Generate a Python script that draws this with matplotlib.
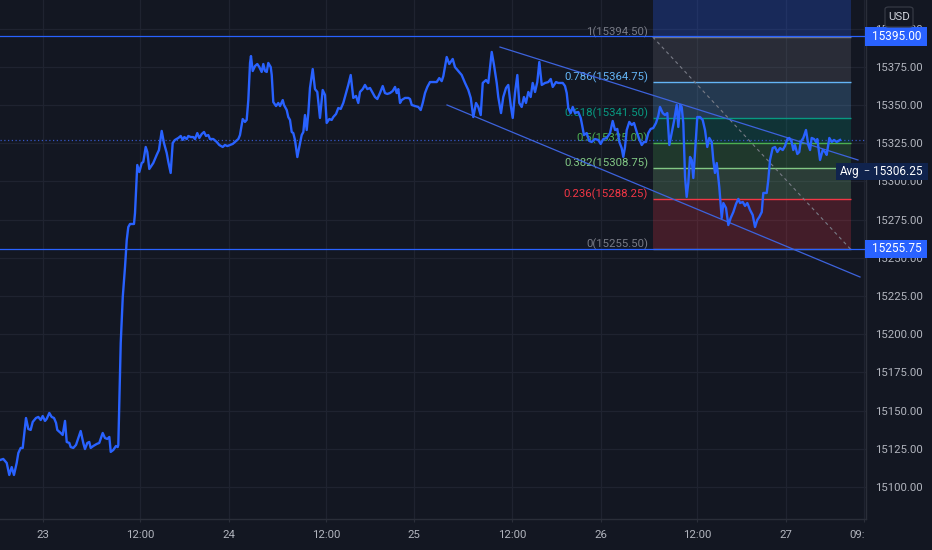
import matplotlib
matplotlib.use("Agg")
import matplotlib.pyplot as plt
from matplotlib import font_manager
from matplotlib.patches import Rectangle, FancyBboxPatch

# ---------------- data ----------------
times = [
-5.51,-5.09,-4.65,-4.32,-4.01,-3.72,-3.37,-3.16,-2.86,-2.60,
-2.18,-1.88,-1.58,-1.32,-0.90,-0.60,-0.29,-0.04,0.26,0.47,
0.81,1.11,1.41,1.67,1.83,2.27,2.52,2.82,3.04,3.37,
3.55,3.88,4.23,4.52,4.83,5.16,5.38,5.68,5.93,6.11,
6.45,6.88,7.21,7.65,7.94,8.24,8.50,8.68,9.01,9.35,
9.57,9.65,9.96,10.22,10.51,10.73,10.93,11.15,11.66,11.79,
12.08,12.34,12.65,12.85,13.16,13.37,13.62,14.13,14.57,14.86,
15.21,15.50,15.85,16.06,16.36,16.62,16.91,17.34,17.65,17.90,
18.11,18.42,18.62,18.93,19.26,19.48,19.77,20.03,20.34,20.63,
20.89,21.18,21.40,21.82,22.26,22.59,23.03,23.32,23.62,23.96,
24.31,24.60,25.03,25.24,25.59,25.88,26.10,26.31,26.53,26.65,
26.87,27.17,27.46,27.72,28.02,28.23,28.45,28.67,28.87,29.18,
29.31,29.51,29.86,30.15,30.37,30.72,30.88,31.23,31.43,31.65,
31.87,32.07,32.29,32.59,32.84,33.15,33.36,33.57,33.79,34.00,
34.21,34.56,34.85,35.15,35.49,35.84,36.14,36.35,36.69,36.99,
37.20,37.55,37.84,38.15,38.48,38.83,39.12,39.43,39.76,40.11,
40.40,40.62,40.97,41.26,41.56,41.90,42.25,42.54,42.84,43.18,
43.53,43.82,44.12,44.46,44.81,45.11,45.32,45.53,45.75,45.96,
46.39,46.81,47.03,47.25,47.67,48.09,48.40,48.66,48.95,49.25,
49.59,50.02,50.45,50.78,51.09,51.30,51.73,52.06,52.50,52.79,
53.22,53.65,54.08,54.50,54.81,55.14,55.49,55.78,56.09,56.35,
56.77,57.06,57.50,57.79,58.14,58.34,58.69,58.98,59.33,59.62,
59.93,60.19,60.48,60.78,61.03,61.34,61.63,61.89,62.19,62.49,
62.75,63.05,63.34,63.60,63.91,64.33,64.75,65.06,65.32,65.74,
66.03,66.25,66.60,66.89,67.11,67.31,67.62,67.88,68.17,68.59,
68.90,69.03,69.32,69.67,70.00,70.31,70.73,71.16,71.46,71.80,
72.23,72.66,73.00,73.30,73.59,73.85,74.15,74.36,74.58,74.80,
75.13,75.44,75.73,76.08,76.41,76.72,77.01,77.27,77.56,77.87,
78.20,78.55,78.84,79.06,79.41,79.70,80.00,80.26,80.56,80.86,
81.20,81.41,81.63,81.84,82.05,82.27,82.48,82.69,82.91,83.13,
83.33,83.55,83.84,84.19,84.53,84.83,85.12,85.38,85.69,85.89,
86.11,86.33,86.66,86.97,87.18,87.52,87.82,88.12,88.46,88.80,
89.10,89.32,89.67,89.96,90.25,90.60,90.94,91.24,91.53,91.79,
92.10,92.30,92.74,92.94,93.16,93.50,93.80,94.10,94.44,94.79,
95.08,95.38,95.63,95.94,96.14,96.36,96.66,96.91,97.09,97.43,
97.77,98.07,98.29,98.50,98.80,99.05,99.22,99.57,99.91,100.21,
100.42,100.76,101.07,101.36,101.71,102.13]

prices = [
15117.6,15118.3,15115.7,15107.8,15113.0,15107.8,15115.7,15122.2,15125.5,15125.5,
15145.1,15137.9,15137.3,15142.5,15145.1,15145.8,15143.8,15146.4,15143.2,15144.5,
15148.4,15145.8,15145.1,15141.9,15137.3,15135.3,15134.0,15143.2,15129.4,15128.8,
15126.1,15125.5,15127.5,15132.0,15136.6,15128.8,15124.8,15128.8,15129.4,15125.5,
15126.8,15128.1,15128.8,15135.3,15132.0,15131.4,15132.7,15122.9,15124.2,15126.8,
15126.1,15127.4,15194.2,15224.3,15244.0,15261.6,15270.1,15272.1,15272.1,15279.3,
15310.7,15306.1,15312.0,15312.7,15322.5,15319.2,15308.1,15312.0,15317.3,15320.5,
15333.0,15325.1,15318.6,15312.7,15305.5,15325.1,15327.1,15328.4,15329.7,15327.1,
15329.0,15327.7,15329.7,15329.0,15329.0,15327.7,15331.6,15328.4,15331.0,15332.3,
15329.7,15330.3,15327.7,15327.7,15325.8,15323.8,15322.5,15323.8,15323.1,15323.8,
15324.5,15325.8,15327.7,15330.3,15340.8,15338.9,15340.2,15353.2,15377.5,15382.0,
15372.2,15375.5,15376.8,15374.8,15371.6,15376.8,15372.2,15371.6,15377.5,15374.8,
15369.6,15351.9,15349.3,15351.3,15349.3,15353.2,15350.0,15346.7,15342.1,15340.2,
15332.3,15331.6,15327.1,15315.9,15322.5,15330.3,15332.3,15343.4,15333.6,15344.7,
15361.1,15373.5,15360.4,15358.5,15341.5,15359.8,15356.5,15338.2,15340.8,15340.2,
15342.1,15344.1,15348.0,15347.4,15351.3,15357.8,15363.1,15369.6,15354.6,15355.9,
15351.3,15358.5,15360.4,15363.1,15360.4,15361.1,15357.8,15355.2,15353.9,15357.8,
15362.4,15357.8,15357.2,15357.8,15359.1,15361.8,15357.8,15360.4,15351.3,15353.2,
15354.6,15354.6,15353.9,15350.0,15349.3,15348.7,15346.7,15351.3,15357.8,15361.8,
15365.0,15365.0,15365.0,15367.6,15365.6,15368.9,15381.4,15376.8,15380.1,15374.8,
15372.2,15369.6,15364.4,15359.8,15354.6,15342.1,15351.3,15348.7,15343.4,15364.4,
15366.3,15364.4,15384.7,15376.2,15364.4,15355.2,15344.7,15355.2,15361.1,15363.1,
15350.0,15341.5,15357.8,15369.6,15351.3,15348.7,15355.2,15351.3,15358.5,15355.2,
15364.4,15358.5,15365.0,15378.1,15363.1,15364.4,15365.0,15367.0,15361.8,15365.0,
15364.4,15364.4,15364.4,15362.4,15357.8,15348.0,15344.7,15348.7,15344.7,15345.4,
15341.5,15338.2,15330.3,15331.6,15326.4,15325.8,15327.7,15327.1,15324.5,15327.7,
15328.4,15331.6,15339.5,15333.6,15334.3,15325.8,15321.8,15316.0,15322.5,15333.6,
15338.9,15336.9,15338.2,15332.3,15327.7,15323.8,15325.8,15325.8,15331.6,15334.3,
15334.9,15338.2,15342.8,15348.7,15344.7,15343.4,15344.7,15323.8,15331.6,15339.5,
15350.0,15335.6,15350.0,15348.7,15338.2,15302.9,15289.8,15299.0,15316.0,15314.0,
15302.2,15318.6,15342.1,15342.1,15340.2,15333.6,15322.5,15328.4,15325.8,15314.0,
15305.5,15312.0,15296.3,15276.0,15285.8,15282.6,15271.4,15276.0,15279.9,15285.2,
15288.5,15285.8,15286.5,15283.9,15285.8,15281.3,15278.0,15270.1,15274.7,15276.7,
15279.9,15292.4,15292.4,15300.9,15314.0,15321.8,15322.5,15319.2,15321.8,15320.5,
15323.1,15327.7,15328.4,15325.8,15320.5,15323.8,15317.9,15319.2,15325.8,15328.4,
15333.6,15323.8,15320.5,15328.4,15327.7,15325.8,15327.7,15314.0,15320.5,15319.2,
15317.3,15328.4,15325.8,15327.1,15325.8,15327.1]

x_tick_pos = [0.0, 12.43, 23.83, 36.26, 47.58, 60.10, 71.44, 83.80, 95.21, 105.2]
x_tick_labels = ["23", "12:00", "24", "12:00", "25", "12:00", "26", "12:00", "27", "09:00"]
y_ticks = [15100, 15125, 15150, 15175, 15200, 15225, 15250, 15275, 15300,
           15325, 15350, 15375, 15400]

# Fibonacci retracement
fib_start, fib_end = 78.13, 103.50
fib_ratios = ["1", "0.786", "0.618", "0.5", "0.382", "0.236", "0"]
fib_prices = [15394.50, 15364.75, 15341.50, 15325.00, 15308.75, 15288.25, 15255.50]
fib_colors = ["#787b86", "#64b5f6", "#089981", "#4caf50", "#81c784", "#f23645", "#787b86"]
fib_top_color = "#2962ff"

# horizontal levels & price labels
hlevels = [15395.00, 15255.75]
avg_price = 15306.25

# channel lines (start time, start price, end time, end price)
channel_upper = ([58.56, 104.43], [15387.9, 15314.0])
channel_lower = ([51.77, 104.69], [15350.0, 15237.4])

# ---------------- styling ----------------
BG = "#131722"
GRID = "#1f2330"
AXC = "#2a2e39"
TXT = "#b2b5be"
BLUE = "#2962ff"

avail = {f.name for f in font_manager.fontManager.ttflist}
if "Liberation Sans Narrow" in avail:
    FONT, FS = "Liberation Sans Narrow", 9.3
elif "Roboto" in avail:
    FONT, FS = "Roboto", 8.2
else:
    FONT, FS = "DejaVu Sans", 7.6
plt.rcParams["font.family"] = [FONT, "DejaVu Sans"]

n = min(len(times), len(prices))
times = times[:n]
prices = prices[:n]

W, H = 932, 550
fig = plt.figure(figsize=(W / 100, H / 100), dpi=100, facecolor=BG)
ax = fig.add_axes([0, 31 / H, 866 / W, 519 / H])
ax.set_facecolor(BG)

XMIN, XMAX = -5.51, 105.46
YMIN, YMAX = 15079.0, 15418.7
ax.set_xlim(XMIN, XMAX)
ax.set_ylim(YMIN, YMAX)

# grid / ticks
ax.set_yticks(y_ticks)
ax.set_yticklabels([f"{v:.2f}" for v in y_ticks])
ax.set_xticks(x_tick_pos)
ax.set_xticklabels(x_tick_labels)
ax.grid(True, color=GRID, lw=0.9, zorder=0)
ax.set_axisbelow(True)

for s in ["top", "left"]:
    ax.spines[s].set_visible(False)
for s in ["right", "bottom"]:
    ax.spines[s].set_color(AXC)
    ax.spines[s].set_linewidth(1.0)

ax.yaxis.tick_right()
ax.tick_params(axis="y", length=0, pad=6.3, labelsize=FS, labelcolor=TXT)
ax.tick_params(axis="x", length=2.5, pad=5.5, labelsize=FS, labelcolor=TXT, color=AXC)
last = ax.get_xticklabels()[-1]
clip_rect = Rectangle((0, 0), 865, H, transform=None)
last.set_clip_path(clip_rect)
last.set_clip_on(True)

# fib zones
ax.fill_between([fib_start, fib_end], fib_prices[0], YMAX + 5, color=fib_top_color,
                alpha=0.25, lw=0, zorder=1)
for i in range(len(fib_prices) - 1):
    ax.fill_between([fib_start, fib_end], fib_prices[i + 1], fib_prices[i],
                    color=fib_colors[i], alpha=0.22, lw=0, zorder=1)
for r, p, c in zip(fib_ratios, fib_prices, fib_colors):
    ax.hlines(p, fib_start, fib_end, colors=c, lw=1.0, zorder=2)
    ax.text(fib_start - 0.6, p + 1.2, f"{r}({p:.2f})", color=c, fontsize=FS,
            ha="right", va="baseline", zorder=2)
# fib trend line (dashed diagonal)
ax.plot([fib_start, fib_end], [fib_prices[0], fib_prices[-1]], color="#787b86",
        lw=0.8, ls=(0, (3, 3)), zorder=2.4)

# horizontal lines
for lv in hlevels:
    ax.axhline(lv, color=BLUE, lw=0.9, zorder=2.5)

# last price dotted line
ax.axhline(prices[-1], color="#3556c4", lw=0.9, ls=(0, (1, 2)), zorder=2.5)

# channel lines
ax.plot(*channel_upper, color="#3d63dd", lw=0.9, zorder=2.6)
ax.plot(*channel_lower, color="#3d63dd", lw=0.9, zorder=2.6)

# price line
ax.plot(times, prices, color=BLUE, lw=1.7, zorder=3, solid_joinstyle="round")

# price labels on the axis
ytr = ax.get_yaxis_transform()
px_w = 1 / 866.0
for lv in hlevels:
    ax.add_patch(Rectangle((1.0 - 1 * px_w, lv - 6.1), 62 * px_w, 12.2, transform=ytr,
                           facecolor=BLUE, edgecolor="none", clip_on=False, zorder=10))
    ax.text(1.0 + 31 * px_w, lv, f"{lv:.2f}", transform=ytr, color="white",
            fontsize=FS + 0.3, ha="center", va="center", clip_on=False, zorder=11)

ax.add_patch(Rectangle((1.0 - 30 * px_w, avg_price - 5.6), 92 * px_w, 11.2, transform=ytr,
                       facecolor="#10234d", edgecolor="none", clip_on=False, zorder=10))
ax.text(1.0 - 16 * px_w, avg_price, "Avg", transform=ytr, color="white",
        fontsize=FS + 0.2, ha="center", va="center", clip_on=False, zorder=11)
ax.text(1.0 + 0.5 * px_w, avg_price, "–", transform=ytr, color="white",
        fontsize=FS - 1.5, ha="center", va="center", clip_on=False, zorder=11)
ax.text(1.0 + 32 * px_w, avg_price, f"{avg_price:.2f}", transform=ytr, color="white",
        fontsize=FS + 0.3, ha="center", va="center", clip_on=False, zorder=11)

# USD box
fig.patches.append(FancyBboxPatch((885 / W, 1 - 27 / H), 28 / W, 20 / H,
                                  boxstyle="round,pad=0,rounding_size=0.004",
                                  transform=fig.transFigure, facecolor=BG,
                                  edgecolor="#363a45", lw=0.9, zorder=20))
fig.text(899 / W, 1 - 17 / H, "USD", color="#d1d4dc", fontsize=FS,
         ha="center", va="center", zorder=21)

fig.savefig("out.png", dpi=100, facecolor=BG)
